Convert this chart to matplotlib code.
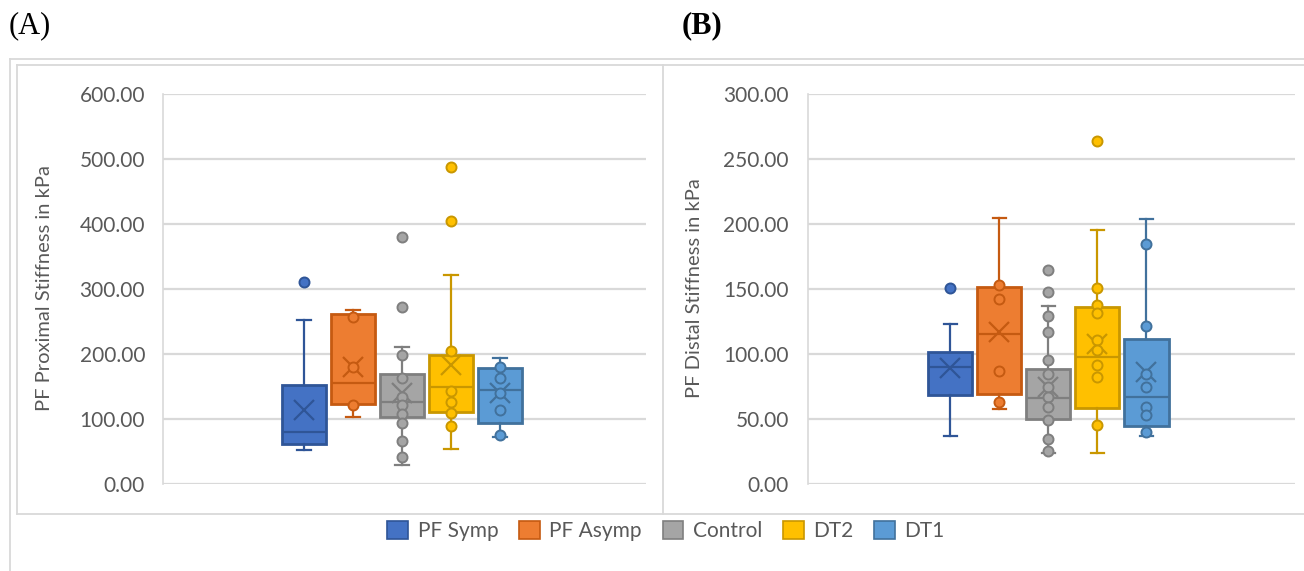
import matplotlib
matplotlib.use("Agg")
import matplotlib.pyplot as plt
from matplotlib.patches import Patch, Rectangle
from matplotlib.lines import Line2D
from matplotlib.ticker import FuncFormatter, MultipleLocator

plt.rcParams['font.family'] = ['Lato', 'DejaVu Sans']

groups = ["PF Symp", "PF Asymp", "Control", "DT2", "DT1"]
face_colors = ["#4472C4", "#ED7D31", "#A5A5A5", "#FFC000", "#5B9BD5"]
edge_colors = ["#2F5597", "#C55A11", "#7F7F7F", "#C99700", "#41719C"]

# ---- Panel A: PF Proximal Stiffness (kPa)
a_q1 = [61.5, 123.0, 102.6, 110.3, 93.4]
a_med = [80.5, 156.0, 126.0, 148.8, 144.6]
a_q3 = [152.0, 261.5, 168.8, 198.5, 178.0]
a_lo = [52.3, 102.6, 29.2, 53.4, 71.8]
a_hi = [252.0, 267.0, 211.0, 321.0, 193.4]
a_mean = [114.0, 180.5, 140.5, 183.0, 139.5]
a_points = [
    [311.0],
    [257.4, 180.5, 121.5],
    [380.0, 272.8, 198.0, 163.0, 134.3, 122.0, 107.2, 94.3, 66.2, 41.0],
    [487.0, 405.0, 204.6, 143.0, 125.7, 109.7, 89.2],
    [180.5, 162.6, 139.5, 113.8, 75.4],
]

# ---- Panel B: PF Distal Stiffness (kPa)
b_q1 = [68.5, 69.2, 50.0, 58.7, 44.6]
b_med = [90.0, 115.6, 66.0, 97.7, 67.2]
b_q3 = [101.3, 151.3, 88.5, 136.2, 111.8]
b_lo = [36.9, 57.5, 23.6, 24.1, 36.9]
b_hi = [123.3, 204.4, 137.2, 195.2, 203.8]
b_mean = [89.5, 117.0, 74.8, 107.7, 86.0]
b_points = [
    [150.8],
    [153.3, 142.5, 87.2, 63.3],
    [164.6, 147.7, 129.0, 117.0, 95.2, 84.6, 74.8, 67.2, 59.0, 49.2, 34.8, 25.6],
    [264.0, 150.8, 137.5, 131.3, 110.8, 103.0, 91.8, 82.5, 45.2],
    [184.6, 121.5, 84.6, 74.8, 59.5, 53.1, 40.2],
]

a_ticks = [0, 100, 200, 300, 400, 500, 600]
b_ticks = [0, 50, 100, 150, 200, 250, 300]

W, H = 1304, 571
fig = plt.figure(figsize=(W / 100, H / 100), dpi=100)

GRID = "#D9D9D9"
TXT = "#595959"


def fx(x):
    return x / W


def fy(y):
    return 1 - y / H


def frame_line(x0, y0, x1, y1):
    fig.add_artist(Line2D([fx(x0), fx(x1)], [fy(y0), fy(y1)], color=GRID,
                          lw=1.3, transform=fig.transFigure))


# outer / chart frames
frame_line(10, 59, 1304, 59)
frame_line(10, 59, 10, 571)
frame_line(17, 65, 1304, 65)
frame_line(17, 65, 17, 514)
frame_line(17, 514, 1304, 514)
frame_line(663, 65, 663, 514)


def make_panel(left, right, ticks, q1, med, q3, lo, hi, mean, points, xlim, pad):
    ax = fig.add_axes([fx(left), fy(484), fx(right) - fx(left), fy(94) - fy(484)])
    positions = [1, 2, 3, 4, 5]
    for i in range(5):
        st = [dict(med=med[i], q1=q1[i], q3=q3[i], whislo=lo[i], whishi=hi[i],
                   mean=mean[i], fliers=[])]
        ec = edge_colors[i]
        fc = face_colors[i]
        ax.bxp(st, positions=[positions[i]], widths=0.9, capwidths=0.27,
               patch_artist=True, showmeans=True, showfliers=False,
               boxprops=dict(facecolor=fc, edgecolor=ec, linewidth=2.0),
               whiskerprops=dict(color=ec, linewidth=1.6),
               capprops=dict(color=ec, linewidth=1.6),
               medianprops=dict(color=ec, linewidth=1.6),
               meanprops=dict(marker='x', markersize=14, markeredgecolor=ec,
                              markeredgewidth=1.6, markerfacecolor='none'),
               zorder=3)
        ax.scatter([positions[i]] * len(points[i]), points[i], s=52,
                   facecolor=fc, edgecolor=ec, linewidth=1.4, zorder=4)
    ax.set_xlim(*xlim)
    ax.set_ylim(ticks[0], ticks[-1])
    ax.set_yticks(ticks)
    ax.yaxis.set_major_formatter(FuncFormatter(lambda v, p: f"{v:.2f}"))
    ax.set_xticks([])
    ax.grid(axis='y', color=GRID, linewidth=1.6, zorder=0)
    ax.set_axisbelow(True)
    for s in ['top', 'right', 'bottom']:
        ax.spines[s].set_visible(False)
    ax.spines['left'].set_color(GRID)
    ax.spines['left'].set_linewidth(1.2)
    ax.tick_params(axis='y', length=0, pad=pad, labelsize=15, labelcolor=TXT)
    ax.patch.set_alpha(0)
    return ax


axA = make_panel(162.7, 645.7, a_ticks, a_q1, a_med, a_q3, a_lo, a_hi, a_mean,
                 a_points, (-1.884, 7.973), 12.7)
axB = make_panel(807.7, 1295, b_ticks, b_q1, b_med, b_q3, b_lo, b_hi, b_mean,
                 b_points, (-1.91, 8.03), 13.5)

fig.text(fx(45), fy(288), "PF Proximal Stiffness in kPa", rotation=90,
         ha='center', va='center', fontsize=14.5, color=TXT)
fig.text(fx(694), fy(288), "PF Distal Stiffness in kPa", rotation=90,
         ha='center', va='center', fontsize=14.5, color=TXT)

fig.text(fx(9), fy(26), "(A)", ha='left', va='center', fontsize=22,
         family='Liberation Serif', color='black')
fig.text(fx(682), fy(26), "(B)", ha='left', va='center', fontsize=22,
         family='Liberation Serif', fontweight='bold', color='black')

handles = [Patch(facecolor=face_colors[i], edgecolor=edge_colors[i], linewidth=1.2,
                 label=groups[i]) for i in range(5)]
leg = fig.legend(handles=handles, loc='center', bbox_to_anchor=(fx(666), fy(531)),
                 ncol=5, frameon=False, fontsize=15, handlelength=1.0,
                 handleheight=1.0, handletextpad=0.45, columnspacing=1.0,
                 borderaxespad=0)
for t in leg.get_texts():
    t.set_color(TXT)

fig.savefig("out.png", dpi=100)
